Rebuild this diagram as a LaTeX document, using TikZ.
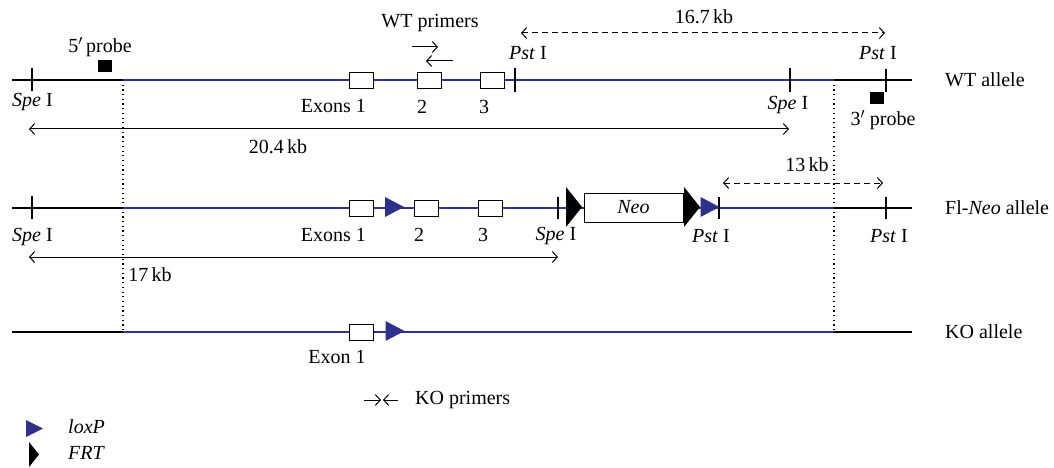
\documentclass[tikz,border=0pt]{standalone}
\usepackage{fontspec}
\setmainfont{Liberation Serif}
\usetikzlibrary{arrows.meta}
\definecolor{navy}{RGB}{46,49,140}
\begin{document}
\begin{tikzpicture}[x=1pt,y=-1pt, font=\fontsize{20}{22}\selectfont,
 blk/.style={line width=1.2pt},
 blu/.style={line width=2pt, draw=navy},
 tk/.style={line width=1.2pt},
 exon/.style={draw, fill=white, line width=1pt, minimum width=24pt, minimum height=16pt, inner sep=0pt},
 txt/.style={inner sep=0pt},
 dim/.style={line width=1pt, {Straight Barb[length=5pt,width=11pt]}-{Straight Barb[length=5pt,width=11pt]}},
 dimd/.style={dim, dash pattern=on 6pt off 4pt},
 prim/.style={line width=1pt, -{Straight Barb[length=5pt,width=11pt]}},
 dotv/.style={line width=1.2pt, dash pattern=on 1.2pt off 3.5pt},
 probe/.style={fill=black, minimum width=14pt, minimum height=12pt, inner sep=0pt},
 pics/lox/.style={code={\fill[navy] (-9.5,-10) -- (9.5,0) -- (-9.5,10) -- cycle;}},
 pics/frt/.style={code={\fill[black] (-8,-20) -- (8,0) -- (-8,20) -- cycle;}},
 pics/loxs/.style={code={\fill[navy] (-8.5,-8.5) -- (8.5,0) -- (-8.5,8.5) -- cycle;}},
 pics/frts/.style={code={\fill[black] (-5,-12.5) -- (5,0) -- (-5,12.5) -- cycle;}}]
\useasboundingbox (0,0) rectangle (1054,468);

% ---------- WT allele ----------
\coordinate (wL) at (12,80); \coordinate (wA) at (123,80);
\coordinate (wB) at (834,80); \coordinate (wR) at (912,80);
% ---------- Fl-Neo allele ----------
\coordinate (fL) at (12,208); \coordinate (fA) at (123,208);
\coordinate (fB) at (834,208); \coordinate (fR) at (912,208);
% ---------- KO allele ----------
\coordinate (kL) at (12,332); \coordinate (kA) at (123,332);
\coordinate (kB) at (834,332); \coordinate (kR) at (912,332);

\draw[dotv] (wA) -- (kA);
\draw[dotv] (wB) -- (kB);

\draw[blk] (wL) -- (wR);
\draw[blu] (wA) -- (wB);
\draw[blk] (fL) -- (fR);
\draw[blu] (fA) -- (fB);
\draw[blk] (kL) -- (kR);
\draw[blu] (kA) -- (kB);

% WT ticks
\draw[tk] (32,68) -- (32,91);
\draw[tk] (515,68) -- (515,92);
\draw[tk] (790,68) -- (790,92);
\draw[tk] (886,69) -- (886,92);
% WT exons
\node[exon] (w1) at (361,81) {};
\node[exon] (w2) at (429,81) {};
\node[exon] (w3) at (492,81) {};
% probes
\node[probe] (p5) at (105,66) {};
\node[probe] (p3) at (877,98) {};
\node[txt] (p5l) at (100,47) {5$'$\,probe};
\node[txt] (p3l) at (883,120) {3$'$ probe};
% WT labels
\node[txt,anchor=west] (wspe1) at (12,102) {\textit{Spe} I};
\node[txt,anchor=east] (wex1) at (366,106) {Exons 1};
\node[txt] (wex2) at (422,107) {2};
\node[txt] (wex3) at (484,107) {3};
\node[txt] (wpst1) at (528,53) {\textit{Pst} I};
\node[txt] (wpst2) at (878,53) {\textit{Pst} I};
\node[txt] (wspe2) at (788,105) {\textit{Spe} I};
\node[txt,anchor=west] (wlab) at (945,80) {WT allele};
% WT primers
\node[txt] (wtp) at (430,23) {WT primers};
\coordinate (pf1) at (412,47); \coordinate (pf2) at (438,47);
\coordinate (pr1) at (453,61); \coordinate (pr2) at (426,61);
\draw[prim] (pf1) -- (pf2);
\draw[prim] (pr1) -- (pr2);
% 16.7 kb
\coordinate (d1a) at (521,33); \coordinate (d1b) at (885,33);
\draw[dimd] (d1a) -- (d1b);
\node[txt] (d1l) at (704,17) {16.7\,kb};
% 20.4 kb
\coordinate (d2a) at (29,129); \coordinate (d2b) at (789,129);
\draw[dim] (d2a) -- (d2b);
\node[txt] (d2l) at (278,147) {20.4\,kb};

% Fl-Neo ticks
\draw[tk] (32,196) -- (32,219);
\draw[tk] (558,197) -- (558,219);
\draw[tk] (719,197) -- (719,219);
\draw[tk] (886,197) -- (886,219);
% Fl-Neo elements
\node[exon] (f1) at (361,208) {};
\pic at (394.5,207) {lox};
\node[exon] (f2) at (426,208) {};
\node[exon] (f3) at (490,208) {};
\pic at (574,207) {frt};
\node[exon, minimum width=99pt, minimum height=29pt] (neo) at (633.5,207.5) {\textit{Neo}};
\pic at (692,207) {frt};
\pic at (710,207) {lox};
% Fl-Neo labels
\node[txt,anchor=west] (fspe1) at (12,237) {\textit{Spe} I};
\node[txt,anchor=east] (fex1) at (366,235) {Exons 1};
\node[txt] (fex2) at (419,235) {2};
\node[txt] (fex3) at (483,235) {3};
\node[txt] (fspe2) at (556,236) {\textit{Spe} I};
\node[txt] (fpst1) at (711,236) {\textit{Pst} I};
\node[txt] (fpst2) at (889,236) {\textit{Pst} I};
\node[txt,anchor=west] (flab) at (945,208) {Fl-\textit{Neo} allele};
% 13 kb
\coordinate (d3a) at (723,183); \coordinate (d3b) at (883,183);
\draw[dimd] (d3a) -- (d3b);
\node[txt] (d3l) at (807,165) {13\,kb};
% 17 kb
\coordinate (d4a) at (29,257); \coordinate (d4b) at (558,257);
\draw[dim] (d4a) -- (d4b);
\node[txt] (d4l) at (150,275) {17\,kb};

% KO allele
\node[exon] (k1) at (361,332) {};
\pic at (395,331) {lox};
\node[txt] (kex1) at (337,357) {Exon 1};
\node[txt,anchor=west] (klab) at (945,332) {KO allele};
% KO primers
\coordinate (kp1) at (364,400); \coordinate (kp2) at (381,400);
\coordinate (kp3) at (398,400); \coordinate (kp4) at (383,400);
\draw[prim] (kp1) -- (kp2);
\draw[prim] (kp3) -- (kp4);
\node[txt,anchor=west] (kpl) at (415,400) {KO primers};

% Legend
\pic at (34.5,428.5) {loxs};
\node[txt,anchor=west] (lg1l) at (68,427) {\textit{loxP}};
\pic at (34,454.5) {frts};
\node[txt,anchor=west] (lg2l) at (68,453) {\textit{FRT}};
\end{tikzpicture}
\end{document}
